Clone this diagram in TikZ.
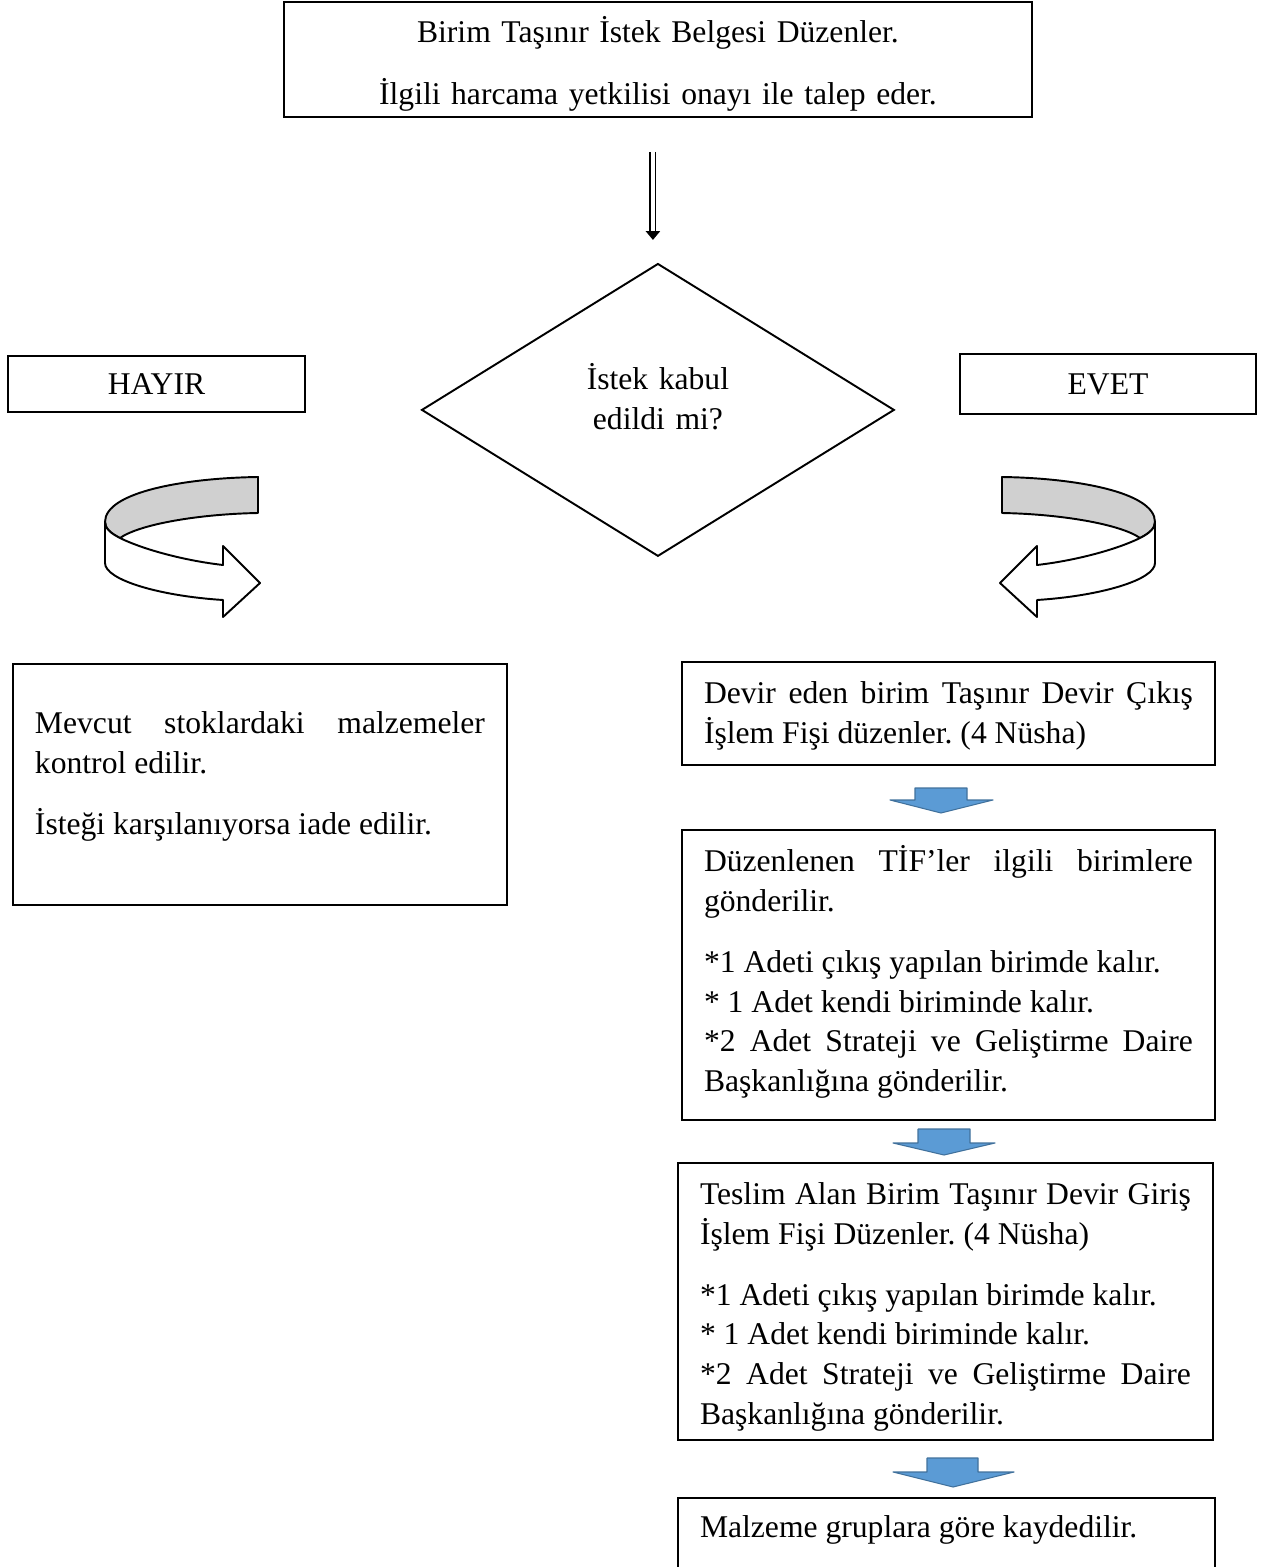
\documentclass[tikz,border=0pt]{standalone}
\usepackage{fontspec}
\setmainfont{Liberation Serif}
\usetikzlibrary{shapes.geometric, arrows.meta, positioning}
\definecolor{arrowblue}{RGB}{91,155,213}
\definecolor{arrowedge}{RGB}{65,113,156}
\definecolor{ribbongray}{RGB}{208,208,208}
\newcommand{\boxfont}{\fontsize{18pt}{22.5pt}\selectfont\frenchspacing}
\tikzset{
    block/.style={rectangle, draw, line width=1.1pt, anchor=north west, inner xsep=0.44cm, inner ysep=0pt, outer sep=0pt, align=justify, font=\boxfont},
    answer/.style={rectangle, draw, line width=1.1pt, outer sep=0pt, font=\boxfont},
    decision/.style={diamond, draw, line width=1.1pt, inner sep=0pt, outer sep=0pt, minimum width=9.44cm, minimum height=5.84cm, text width=3cm, align=center, text height=0.4cm, text depth=1.2cm, font=\boxfont},
    hollowarrow/.style={double, double distance=1.8pt, line width=1.1pt, -{Triangle[width=8pt, length=5pt]}},
    blockarrow/.style={fill=arrowblue, draw=arrowedge, line width=0.6pt, line join=round},
    ribbon/.style={draw, line width=1.1pt, line join=round},
    pics/turnarrow/.style={code={
        \draw[ribbon, fill=ribbongray] (153,0) .. controls (80,1) and (0,15) .. (0,45) .. controls (0,51) and (5,56) .. (15,61) .. controls (35,47) and (95,37) .. (153,36) -- cycle;
        \draw[ribbon, fill=white] (0,45) -- (0,86) .. controls (0,103) and (55,119) .. (118,123) -- (118,140) -- (155,106) -- (118,69) -- (118,88) .. controls (75,83) and (35,71) .. (15,61) .. controls (5,56) and (0,51) .. (0,45) -- cycle;
    }}
}

\begin{document}
\begin{tikzpicture}[x=0.02cm, y=-0.02cm]

    \clip (0,0) rectangle (1266,1567);

    % Nodes
    \node[block, align=center, text width=14.08cm, text height=0.82cm, text depth=1.48cm] (top) at (284,2) {Birim Taşınır İstek Belgesi Düzenler.\\[0.43cm]İlgili harcama yetkilisi onayı ile talep eder.};
    \node[decision, below=2.94cm of top] (ask) {İstek kabul\\edildi mi?};
    \node[answer, minimum width=5.94cm, minimum height=1.12cm] (no) at (156.5,384) {HAYIR};
    \node[answer, minimum width=5.92cm, minimum height=1.2cm] (yes) at (1108,384) {EVET};

    % Left branch
    \node[block, text width=9cm, text height=1.4cm, text depth=3.42cm] (check) at (13,664) {Mevcut stoklardaki malzemeler\linebreak kontrol edilir.\\[0.43cm]İsteği karşılanıyorsa iade edilir.};

    % Right branch
    \node[block, text width=9.78cm, text height=0.84cm, text depth=1.22cm] (out) at (682,662) {Devir eden birim Taşınır Devir Çıkış\linebreak İşlem Fişi düzenler. (4 Nüsha)};
    \node[block, below=1.3cm of out.south west, anchor=north west, text width=9.78cm, text height=0.84cm, text depth=4.96cm] (send) {Düzenlenen TİF’ler ilgili birimlere\linebreak gönderilir.\\[0.43cm]*1 Adeti çıkış yapılan birimde kalır.\\{}* 1 Adet kendi biriminde kalır.\\{}*2 Adet Strateji ve Geliştirme Daire\linebreak Başkanlığına gönderilir.};
    \node[block, below=0.86cm of send.south west, anchor=north west, xshift=-0.08cm, text width=9.82cm, text height=0.84cm, text depth=4.7cm] (entry) {Teslim Alan Birim Taşınır Devir Giriş\linebreak İşlem Fişi Düzenler. (4 Nüsha)\\[0.43cm]*1 Adeti çıkış yapılan birimde kalır.\\{}* 1 Adet kendi biriminde kalır.\\{}*2 Adet Strateji ve Geliştirme Daire\linebreak Başkanlığına gönderilir.};
    \node[block, below=1.16cm of entry.south west, anchor=north west, text width=9.86cm, text height=0.8cm, text depth=1.2cm] (record) {Malzeme gruplara göre kaydedilir.};

    % Arrows
    \draw[hollowarrow, shorten <=0.7cm, shorten >=0.48cm] ([xshift=-0.1cm]top.south) -- ([xshift=-0.1cm]top.south |- ask.north);
    \pic at (105,477) {turnarrow};
    \pic[xscale=-1] at (1155,477) {turnarrow};
    \draw[blockarrow] (915,788) -- (967,788) -- (967,800) -- (993,800) -- (941,813) -- (890,800) -- (915,800) -- cycle;
    \draw[blockarrow] (918,1129) -- (970,1129) -- (970,1143) -- (995,1143) -- (944,1155) -- (893,1143) -- (918,1143) -- cycle;
    \draw[blockarrow] (927,1458) -- (978,1458) -- (978,1472) -- (1014,1472) -- (953,1487) -- (893,1472) -- (927,1472) -- cycle;

\end{tikzpicture}
\end{document}
